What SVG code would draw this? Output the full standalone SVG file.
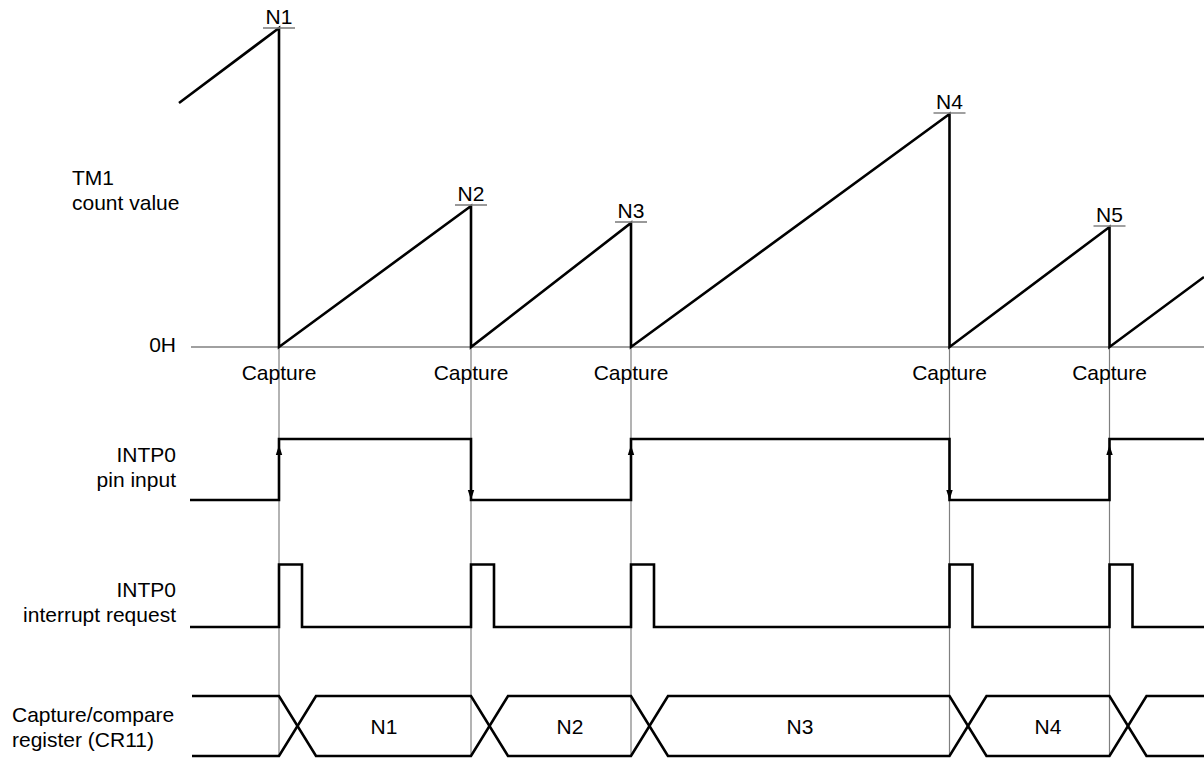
<svg xmlns="http://www.w3.org/2000/svg" xmlns:xlink="http://www.w3.org/1999/xlink" width="1204" height="759" viewBox="0 0 1204 759">
<style>
  text { font-family: "Liberation Sans", Arial, sans-serif; font-size: 21px; fill: #000; }
  .mid { text-anchor: middle; }
  .end { text-anchor: end; }
  .wave { fill: none; stroke: #000; stroke-width: 2.6; stroke-linejoin: miter; }
  .axis { fill: none; stroke: #808080; stroke-width: 1.6; }
  .guide { fill: none; stroke: #808080; stroke-width: 1.2; }
  .ul { fill: none; stroke: #808080; stroke-width: 1.6; }
</style>
<defs>
  <path id="ah" d="M0,0 L-3.2,10 L3.2,10 Z" fill="#000"/>
</defs>
<rect width="1204" height="759" fill="#fff"/>

<g id="labels">
  <text x="72" y="185">TM1</text>
  <text x="72" y="210">count value</text>
  <text x="176" y="352" class="end">0H</text>
  <text x="176" y="462" class="end">INTP0</text>
  <text x="176" y="487" class="end">pin input</text>
  <text x="176" y="597" class="end">INTP0</text>
  <text x="176" y="622" class="end">interrupt request</text>
  <text x="12" y="722">Capture/compare</text>
  <text x="12" y="747">register (CR11)</text>
</g>

<g id="connectors">
  <line class="axis" x1="191" y1="347" x2="1204" y2="347"/>
  <line class="guide" x1="279" y1="347" x2="279" y2="756"/>
  <line class="guide" x1="471" y1="347" x2="471" y2="756"/>
  <line class="guide" x1="631" y1="347" x2="631" y2="756"/>
  <line class="guide" x1="949.5" y1="347" x2="949.5" y2="756"/>
  <line class="guide" x1="1109.5" y1="347" x2="1109.5" y2="756"/>
</g>

<g id="tm1-count">
  <path class="wave" d="M179,103 L279,28 V347 L471,206 V347 L631,223 V347 L949.5,114 V347 L1109.5,227 V347 L1204,277"/>
</g>

<g id="peak-labels">
  <g id="peak-n1"><line class="ul" x1="263" y1="28" x2="295" y2="28"/><text x="279" y="24" class="mid">N1</text></g>
  <g id="peak-n2"><line class="ul" x1="455" y1="205" x2="487" y2="205"/><text x="471" y="201" class="mid">N2</text></g>
  <g id="peak-n3"><line class="ul" x1="615" y1="222" x2="647" y2="222"/><text x="631" y="218" class="mid">N3</text></g>
  <g id="peak-n4"><line class="ul" x1="933.5" y1="113" x2="965.5" y2="113"/><text x="949.5" y="109" class="mid">N4</text></g>
  <g id="peak-n5"><line class="ul" x1="1093.5" y1="226" x2="1125.5" y2="226"/><text x="1109.5" y="222" class="mid">N5</text></g>
</g>

<g id="capture-labels">
  <text x="279" y="380" class="mid">Capture</text>
  <text x="471" y="380" class="mid">Capture</text>
  <text x="631" y="380" class="mid">Capture</text>
  <text x="949.5" y="380" class="mid">Capture</text>
  <text x="1109.5" y="380" class="mid">Capture</text>
</g>

<g id="intp0-pin">
  <path class="wave" d="M190,500 H279 V439 H471 V500 H631 V439 H949.5 V500 H1109.5 V439 H1204"/>
  <use xlink:href="#ah" href="#ah" transform="translate(279,445)"/>
  <use xlink:href="#ah" href="#ah" transform="translate(471,500) rotate(180)"/>
  <use xlink:href="#ah" href="#ah" transform="translate(631,445)"/>
  <use xlink:href="#ah" href="#ah" transform="translate(949.5,500) rotate(180)"/>
  <use xlink:href="#ah" href="#ah" transform="translate(1109.5,445)"/>
</g>

<g id="intp0-irq">
  <path class="wave" d="M190,627 H279 V564.5 H302 V627 H471 V564.5 H494 V627 H631 V564.5 H654 V627 H949.5 V564.5 H972.5 V627 H1109.5 V564.5 H1132.5 V627 H1204"/>
</g>

<g id="cr11">
  <path class="wave" d="M192,696 H279 L316,756 H471 L508,696 H631 L668,756 H949.5 L986.5,696 H1109.5 L1146.5,756 H1204"/>
  <path class="wave" d="M192,756 H279 L316,696 H471 L508,756 H631 L668,696 H949.5 L986.5,756 H1109.5 L1146.5,696 H1204"/>
  <text x="384" y="734" class="mid">N1</text>
  <text x="570" y="734" class="mid">N2</text>
  <text x="800" y="734" class="mid">N3</text>
  <text x="1048" y="734" class="mid">N4</text>
</g>
</svg>
